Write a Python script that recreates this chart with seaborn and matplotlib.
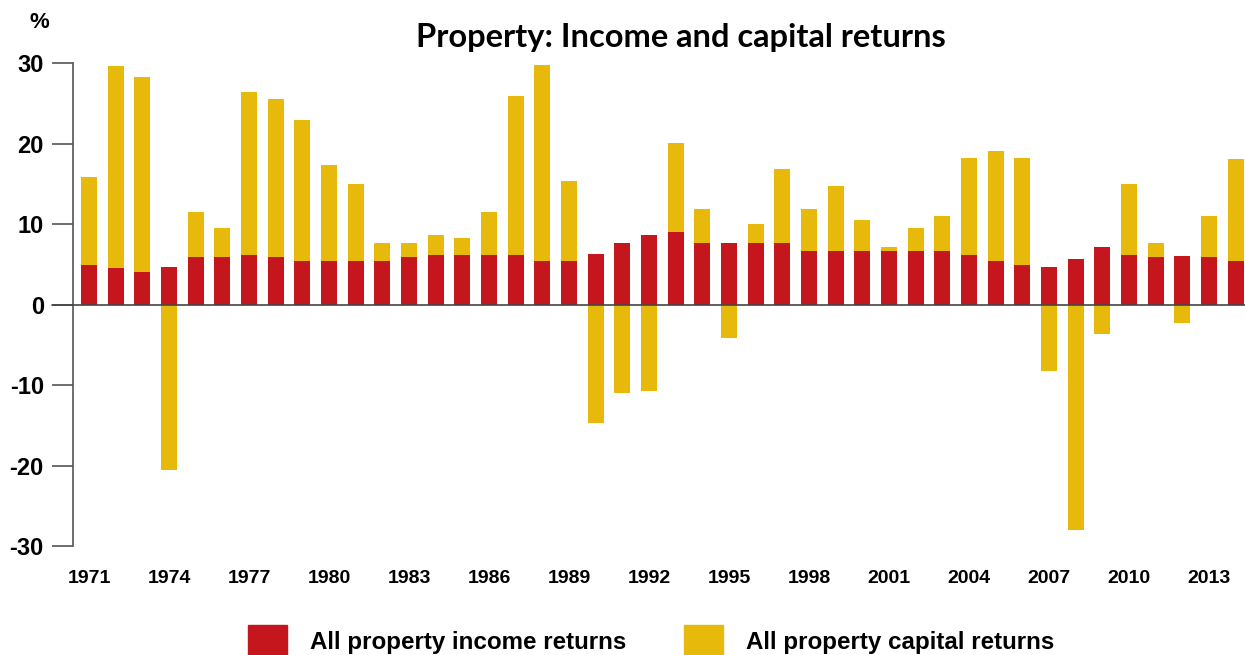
import numpy as np
import pandas as pd
import seaborn as sns
import matplotlib.pyplot as plt
from matplotlib.patches import Patch

# Annual returns, %
years = list(range(1971, 2015))
income = [4.9, 4.5, 4.0, 4.6, 5.9, 5.9, 6.1, 5.9, 5.4, 5.4, 5.4,
          5.4, 5.9, 6.1, 6.1, 6.1, 6.1, 5.4, 5.4, 6.3, 7.7, 8.6,
          9.0, 7.6, 7.7, 7.6, 7.6, 6.6, 6.6, 6.6, 6.6, 6.6, 6.6,
          6.1, 5.4, 4.9, 4.6, 5.6, 7.2, 6.1, 5.9, 6.0, 5.9, 5.4]
capital = [11.0, 25.1, 24.3, -20.6, 5.6, 3.6, 20.3, 19.6, 17.5, 11.9, 9.6,
           2.3, 1.8, 2.5, 2.1, 5.4, 19.8, 24.3, 10.0, -14.7, -11.0, -10.7,
           11.1, 4.3, -4.2, 2.4, 9.2, 5.3, 8.1, 3.9, 0.6, 2.9, 4.4,
           12.1, 13.7, 13.3, -8.3, -28.0, -3.7, 8.9, 1.8, -2.3, 5.1, 12.7]
tick_years = list(range(1971, 2014, 3))

RED = "#c5161d"
YELLOW = "#e7b90b"

df = pd.DataFrame({"year": years, "income": income, "capital": capital})
# capital sits on top of income when positive, hangs from zero when negative
df["top"] = np.where(df["capital"] > 0, df["income"] + df["capital"], df["capital"])

sns.set_style("white")
plt.rcParams["font.family"] = ["Liberation Sans", "DejaVu Sans"]
plt.rcParams["text.color"] = "black"
plt.rcParams["xtick.color"] = "black"
plt.rcParams["ytick.color"] = "black"

fig = plt.figure(figsize=(12.45, 6.55), dpi=100)
ax = fig.add_axes([0.0586, 0.1664, 0.9414, 0.7374])

sns.barplot(data=df, x="year", y="top", native_scale=True, width=0.6,
            color=YELLOW, saturation=1, linewidth=0, ax=ax)
sns.barplot(data=df, x="year", y="income", native_scale=True, width=0.6,
            color=RED, saturation=1, linewidth=0, ax=ax)

ax.set_xlim(1970.4, 2014.35)
ax.set_ylim(-30, 30)
ax.set_yticks([-30, -20, -10, 0, 10, 20, 30])
ax.set_yticklabels(["-30", "-20", "-10", "0", "10", "20", "30"])
ax.set_xticks(tick_years)
ax.set_xticklabels([str(y) for y in tick_years])
ax.set_xlabel("")
ax.set_ylabel("")

for s in ["top", "right", "bottom"]:
    ax.spines[s].set_visible(False)
ax.spines["left"].set_color("#555555")
ax.spines["left"].set_linewidth(1.2)
ax.axhline(0, xmin=-0.018, xmax=1, color="#444444", lw=1.2, clip_on=False, zorder=5)

ax.tick_params(axis="y", length=15, width=1.2, color="#555555", labelcolor="black",
               pad=6, labelsize=17, left=True)
ax.tick_params(axis="x", length=0, pad=17, labelsize=14, labelcolor="black")
for lab in ax.get_yticklabels() + ax.get_xticklabels():
    lab.set_fontweight("bold")

fig.text(0.024, 0.965, "%", fontsize=16, fontweight="bold", ha="left", va="center")
fig.text(0.547, 0.943, "Property: Income and capital returns", fontsize=23.5,
         fontweight="bold", ha="center", va="center", family=["Lato", "DejaVu Sans"])

handles = [Patch(color=RED, label="All property income returns"),
           Patch(color=YELLOW, label="All property capital returns")]
fig.legend(handles=handles, loc="center", bbox_to_anchor=(0.523, 0.022), ncol=2,
           frameon=False, prop={"weight": "bold", "size": 17.4},
           handlelength=1.6, handleheight=1.6, handletextpad=0.95, columnspacing=2.4)

fig.savefig("out.png", dpi=100)
